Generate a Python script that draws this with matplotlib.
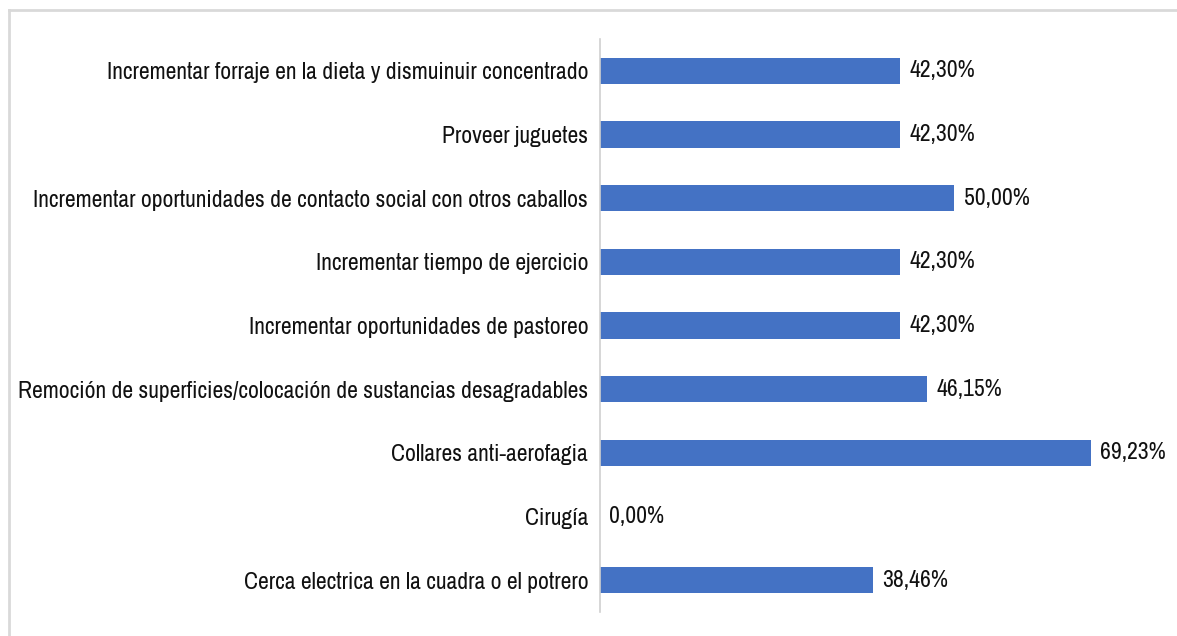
import matplotlib.pyplot as plt
from matplotlib import font_manager
from matplotlib.lines import Line2D

categories = [
    'Incrementar forraje en la dieta y dismuinuir concentrado',
    'Proveer juguetes',
    'Incrementar oportunidades de contacto social con otros caballos',
    'Incrementar tiempo de ejercicio',
    'Incrementar oportunidades de pastoreo',
    'Remoción de superficies/colocación de sustancias desagradables',
    'Collares anti-aerofagia',
    'Cirugía',
    'Cerca electrica en la cuadra o el potrero',
]
values = [42.30, 42.30, 50.00, 42.30, 42.30, 46.15, 69.23, 0.00, 38.46]
value_labels = ['42,30%', '42,30%', '50,00%', '42,30%', '42,30%',
                '46,15%', '69,23%', '0,00%', '38,46%']

# the original uses a narrow (Arial Narrow like) face; take one if installed
installed = sorted({f.name for f in font_manager.fontManager.ttflist})
narrow = [n for n in installed if 'Narrow' in n or 'Condensed' in n]
if narrow:
    family = narrow[0]
    fsize = 17
else:
    family = 'Liberation Sans'
    fsize = 14
plt.rcParams['font.family'] = [family, 'DejaVu Sans']

W, H = 1177, 636
fig = plt.figure(figsize=(W / 100, H / 100), dpi=100)
fig.patch.set_facecolor('white')

# axes placed in pixel terms: zero at x=600, 80% at x=1167
ax = fig.add_axes([600 / W, 1 - 612 / H, 567 / W, (612 - 39) / H])

ypos = list(range(len(categories)))
ax.barh(ypos, values, height=0.41, color='#4472C4')
ax.set_xlim(0, 80)
ax.set_ylim(len(categories) - 0.5, -0.5)

for y, v, lab in zip(ypos, values, value_labels):
    ax.text(v + 1.3, y, lab, va='center', ha='left', fontsize=fsize, color='#111111')

ax.set_yticks(ypos)
ax.set_yticklabels(categories, fontsize=fsize, color='#111111')
ax.tick_params(axis='y', length=0, pad=8.5)
ax.set_xticks([])
for s in ['top', 'right', 'bottom']:
    ax.spines[s].set_visible(False)
ax.spines['left'].set_color('#d0d0d0')
ax.spines['left'].set_linewidth(1.2)

# outer frame (only top and left visible in the crop)
fig.add_artist(Line2D([9 / W, 1], [1 - 10 / H, 1 - 10 / H], transform=fig.transFigure,
                      color='#d9d9d9', lw=2))
fig.add_artist(Line2D([9 / W, 9 / W], [0, 1 - 10 / H], transform=fig.transFigure,
                      color='#d9d9d9', lw=2))

fig.savefig('out.png', dpi=100, facecolor='white')
